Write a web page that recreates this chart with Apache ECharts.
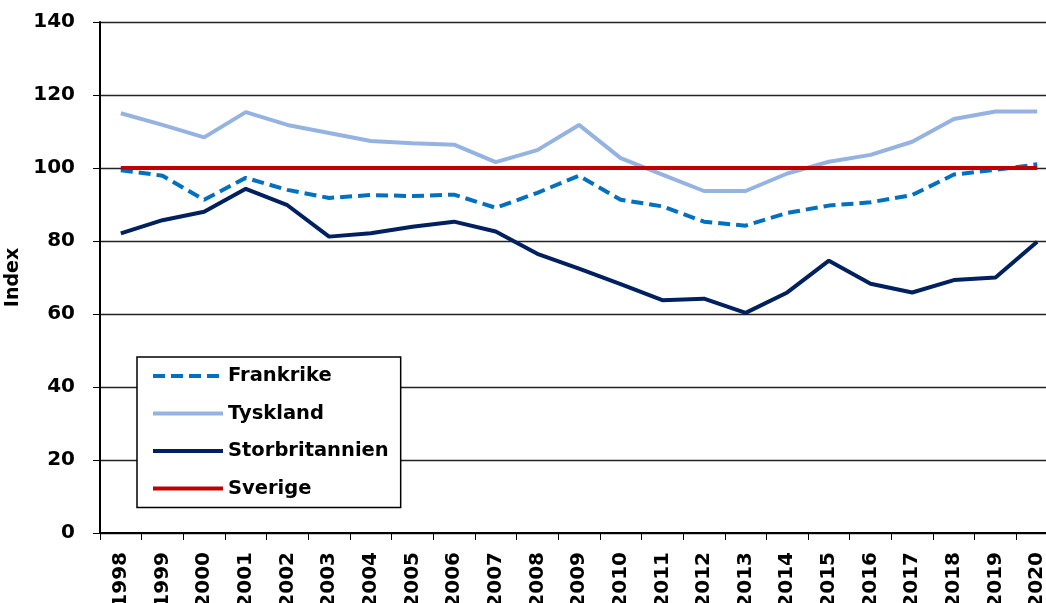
<!DOCTYPE html>
<html>
<head>
<meta charset="utf-8">
<script src="https://cdn.jsdelivr.net/npm/echarts@6/dist/echarts.min.js"></script>
<style>
  html, body { margin: 0; padding: 0; background: #fff; }
  #chart { width: 1046px; height: 603px; }
</style>
</head>
<body>
<div id="chart"></div>
<script>
var years = ['1998', '1999', '2000', '2001', '2002', '2003', '2004', '2005', '2006', '2007', '2008',
  '2009', '2010', '2011', '2012', '2013', '2014', '2015', '2016', '2017', '2018', '2019', '2020'];
var frankrike = [99.4, 97.9, 91.3, 97.3, 94.0, 91.8, 92.6, 92.3, 92.7, 89.1, 93.2,
  97.9, 91.3, 89.5, 85.3, 84.2, 87.7, 89.7, 90.6, 92.6, 98.2, 99.5, 101.0];
var tyskland = [115.0, 111.8, 108.4, 115.3, 111.8, 109.6, 107.4, 106.8, 106.4, 101.6, 104.9,
  111.8, 102.7, 98.2, 93.7, 93.7, 98.5, 101.7, 103.6, 107.2, 113.4, 115.5, 115.5];
var storbritannien = [82.1, 85.7, 88.0, 94.3, 89.8, 81.2, 82.1, 83.9, 85.3, 82.6, 76.5,
  72.4, 68.2, 63.8, 64.2, 60.3, 65.9, 74.6, 68.3, 65.9, 69.3, 70.0, 79.8];
var sverige = [100, 100, 100, 100, 100, 100, 100, 100, 100, 100, 100,
  100, 100, 100, 100, 100, 100, 100, 100, 100, 100, 100, 100];

var font = '"DejaVu Sans", sans-serif';
var chart = echarts.init(document.getElementById('chart'));

function line(name, data, color, dashed) {
  return {
    name: name,
    type: 'line',
    data: data,
    symbol: 'none',
    lineStyle: { color: color, width: 4, type: dashed ? [12, 6] : 'solid', cap: 'butt' },
    itemStyle: { color: color },
    animation: false
  };
}

chart.setOption({
  animation: false,
  grid: { left: 100, right: -12, top: 22, bottom: 70, containLabel: false, outerBoundsMode: 'none' },
  legend: {
    orient: 'vertical',
    left: 137,
    top: 357,
    padding: [7, 12, 7, 14],
    itemGap: 13.5,
    itemWidth: 70,
    itemHeight: 14,
    borderColor: '#000',
    borderWidth: 1.5,
    backgroundColor: '#fff',
    itemStyle: { color: 'rgba(0,0,0,0)', borderColor: 'rgba(0,0,0,0)', borderWidth: 0 },
    lineStyle: { width: 4 },
    textStyle: { fontFamily: font, fontWeight: 'bold', fontSize: 19.5, lineHeight: 24, color: '#000' },
    data: ['Frankrike', 'Tyskland', 'Storbritannien', 'Sverige']
  },
  xAxis: {
    type: 'category',
    data: years,
    boundaryGap: true,
    axisLine: { lineStyle: { color: '#000', width: 2 } },
    axisTick: { show: true, length: 7, lineStyle: { color: '#000', width: 1 } },
    axisLabel: { rotate: 90, margin: 19, interval: 0, fontFamily: font, fontWeight: 'bold', fontSize: 20, color: '#000' },
    splitLine: { show: false }
  },
  yAxis: {
    type: 'value',
    min: 0,
    max: 140,
    interval: 20,
    name: 'Index',
    nameLocation: 'middle',
    nameGap: 68,
    nameTextStyle: { fontFamily: font, fontWeight: 'bold', fontSize: 19, color: '#000' },
    axisLine: { show: true, lineStyle: { color: '#000', width: 2 } },
    axisTick: { show: true, length: 7, lineStyle: { color: '#000', width: 1 } },
    axisLabel: { margin: 25, fontFamily: font, fontWeight: 'bold', fontSize: 20, color: '#000' },
    splitLine: { show: true, lineStyle: { color: '#222', width: 1.3 } }
  },
  series: [
    line('Tyskland', tyskland, '#95B3E1', false),
    line('Frankrike', frankrike, '#0070C0', true),
    line('Storbritannien', storbritannien, '#002060', false),
    line('Sverige', sverige, '#C00000', false)
  ]
});
</script>
</body>
</html>
